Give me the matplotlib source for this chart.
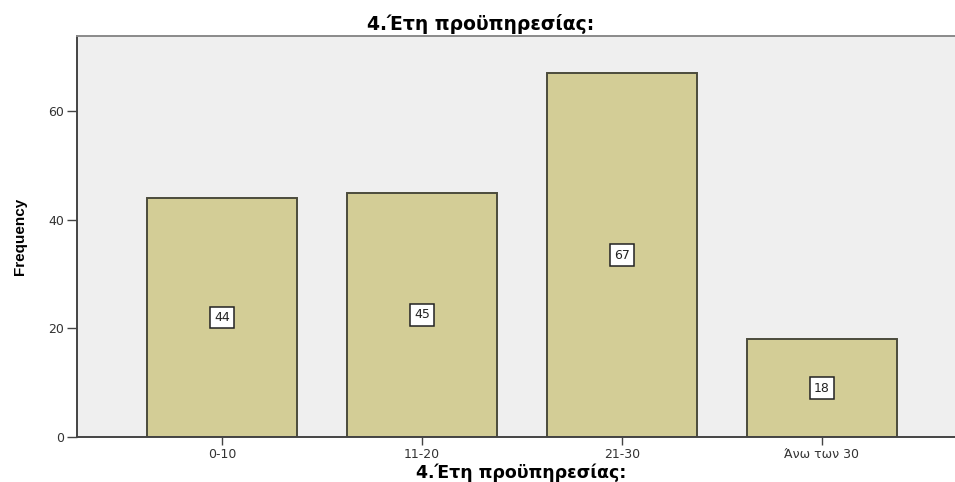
import matplotlib
matplotlib.use("Agg")
import matplotlib.pyplot as plt

categories = ["0-10", "11-20", "21-30", "Άνω των 30"]
frequencies = [44, 45, 67, 18]
yticks = [0, 20, 40, 60]
title = "4.Έτη προϋπηρεσίας:"

plt.rcParams["font.family"] = ["DejaVu Sans"]

fig = plt.figure(figsize=(9.55, 4.82), dpi=100)
ax = fig.add_axes([0.0806, 0.0934, 0.9194, 0.8316])
ax.set_facecolor("#efefef")

x = list(range(len(categories)))
bars = ax.bar(x, frequencies, width=0.75, color="#d3cd96",
              edgecolor="#4b4b3c", linewidth=1.4, zorder=2)

for xi, v in zip(x, frequencies):
    ax.text(xi, v / 2, str(v), ha="center", va="center", fontsize=9,
            color="#222222", zorder=3,
            bbox=dict(boxstyle="square,pad=0.35", facecolor="white",
                      edgecolor="#222222", linewidth=1.1))

ax.set_xlim(-0.725, 3.665)
ax.set_ylim(0, 73.8)
ax.set_xticks(x)
ax.set_xticklabels(categories, fontsize=9, color="#333333")
ax.set_yticks(yticks)
ax.set_yticklabels([str(t) for t in yticks], fontsize=9, color="#333333")
ax.tick_params(axis="y", direction="out", length=7, width=1.0,
               color="#444444", pad=2)
ax.tick_params(axis="x", direction="out", length=6, width=1.0,
               color="#444444", pad=2)

for side in ["left", "bottom"]:
    ax.spines[side].set_color("#444444")
    ax.spines[side].set_linewidth(1.4)
ax.spines["top"].set_color("#8a8a8a")
ax.spines["top"].set_linewidth(1.4)
ax.spines["right"].set_visible(False)

ax.set_ylabel("Frequency", fontsize=11, fontweight="bold", va="center",
              family=["Liberation Sans Narrow", "Liberation Sans", "DejaVu Sans"])
ax.yaxis.set_label_coords(-0.065, 0.5)
ax.set_xlabel(title, fontsize=12.5, fontweight="bold", va="center")
ax.xaxis.set_label_coords(0.5057, -0.0898)
fig.text(0.503, 0.95, title, ha="center", va="center", fontsize=13.5,
         fontweight="bold")

fig.savefig("out.png", dpi=100, facecolor="white")
